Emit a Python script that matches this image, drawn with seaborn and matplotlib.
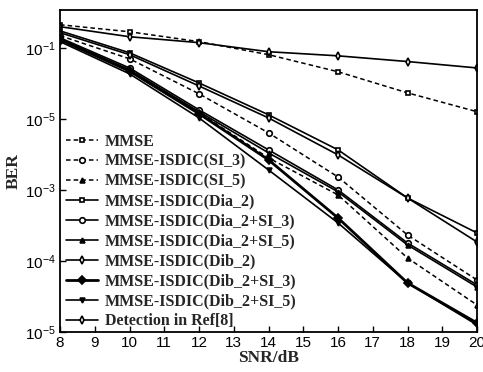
import matplotlib
matplotlib.use("Agg")
import matplotlib.pyplot as plt
import seaborn as sns
import pandas as pd

snr = [8, 10, 12, 14, 16, 18, 20]

labels = [
    "MMSE",
    "MMSE-ISDIC(SI_3)",
    "MMSE-ISDIC(SI_5)",
    "MMSE-ISDIC(Dia_2)",
    "MMSE-ISDIC(Dia_2+SI_3)",
    "MMSE-ISDIC(Dia_2+SI_5)",
    "MMSE-ISDIC(Dib_2)",
    "MMSE-ISDIC(Dib_2+SI_3)",
    "MMSE-ISDIC(Dib_2+SI_5)",
    "Detection in Ref[8]",
]

ber_mmse = [0.211, 0.168, 0.122, 0.080, 0.046, 0.0232, 0.0126]
ber_si3 = [0.148, 0.070, 0.0225, 0.00635, 0.00152, 0.000232, 5.4e-5]
ber_si5 = [0.130, 0.049, 0.0122, 0.00282, 0.00085, 0.000110, 2.4e-5]
ber_dia2 = [0.173, 0.085, 0.032, 0.0114, 0.00366, 0.00077, 0.000248]
ber_dia2_si3 = [0.138, 0.052, 0.0134, 0.00366, 0.0010, 0.000179, 4.6e-5]
ber_dia2_si5 = [0.134, 0.049, 0.0126, 0.00332, 0.00094, 0.000168, 4.3e-5]
ber_dib2 = [0.163, 0.080, 0.029, 0.0103, 0.00311, 0.00077, 0.000185]
ber_dib2_si3 = [0.130, 0.047, 0.0118, 0.00265, 0.000403, 4.9e-5, 1.34e-5]
ber_dib2_si5 = [0.122, 0.043, 0.0103, 0.00191, 0.000343, 4.9e-5, 1.26e-5]
ber_ref8 = [0.198, 0.143, 0.118, 0.088, 0.077, 0.064, 0.052]

series = [ber_mmse, ber_si3, ber_si5, ber_dia2, ber_dia2_si3, ber_dia2_si5,
          ber_dib2, ber_dib2_si3, ber_dib2_si5, ber_ref8]

ytick_vals = [1e-1, 1e-2, 1e-3, 1e-4, 1e-5]
ytick_text = ["$10^{-1}$", "$10^{-5}$", "$10^{-3}$", "$10^{-4}$", "$10^{-5}$"]

styles = [
    dict(ls=(0, (3, 2)), marker="s", mfc="white", ms=3.5, lw=1.1),
    dict(ls=(0, (3, 2)), marker="o", mfc="white", ms=4, lw=1.1),
    dict(ls=(0, (3, 2)), marker="^", mfc="black", ms=3.5, lw=1.1),
    dict(ls="-", marker="s", mfc="white", ms=3.2, lw=1.2),
    dict(ls="-", marker="o", mfc="white", ms=4, lw=1.2),
    dict(ls="-", marker="^", mfc="black", ms=3.5, lw=1.2),
    dict(ls="-", marker="d", mfc="white", ms=4, lw=1.2),
    dict(ls="-", marker="D", mfc="black", ms=4.5, lw=2.0),
    dict(ls="-", marker="v", mfc="black", ms=3.5, lw=1.2),
    dict(ls="-", marker="d", mfc="white", ms=4, lw=1.2),
]

sns.set_style("ticks")
plt.rcParams["font.family"] = ["Liberation Sans", "DejaVu Sans"]
plt.rcParams["mathtext.fontset"] = "custom"
plt.rcParams["mathtext.rm"] = "Liberation Sans"
plt.rcParams["mathtext.it"] = "Liberation Sans"

fig = plt.figure(figsize=(4.83, 3.72), dpi=100)
ax = fig.add_axes([60 / 483, 40 / 372, 417 / 483, 322 / 372])

for lab, vals, st in zip(labels, series, styles):
    df = pd.DataFrame({"SNR": snr, "BER": vals})
    sns.lineplot(data=df, x="SNR", y="BER", ax=ax, color="black",
                 linestyle=st["ls"], marker=st["marker"], markersize=st["ms"],
                 markerfacecolor=st["mfc"], markeredgecolor="black",
                 markeredgewidth=1.2, linewidth=st["lw"], label=lab)

ax.set_yscale("log")
ax.set_xlim(8, 20)
ax.set_ylim(1e-5, 0.34)
ax.set_xticks(range(8, 21))
ax.set_xticklabels([str(v) for v in range(8, 21)], fontsize=11)
ax.set_yticks(ytick_vals)
ax.set_yticklabels(ytick_text, fontsize=11)
ax.yaxis.set_minor_locator(matplotlib.ticker.NullLocator())
ax.tick_params(direction="in", length=4, width=1, colors="black", pad=3)
for s in ax.spines.values():
    s.set_linewidth(1.3)
    s.set_color("black")

ax.set_xlabel("SNR/dB", fontsize=12.5, fontweight="bold",
              family=["Liberation Serif"], labelpad=0)
ax.set_ylabel("BER", fontsize=12.5, fontweight="bold",
              family=["Liberation Serif"], labelpad=2)

leg = ax.legend(loc="lower left", frameon=False,
                prop={"family": "Liberation Serif", "weight": "bold", "size": 11.5},
                handlelength=2.0, handletextpad=0.4, labelspacing=0.25,
                borderaxespad=0.0, bbox_to_anchor=(0.0, -0.012))

fig.savefig("out.png", dpi=100)
